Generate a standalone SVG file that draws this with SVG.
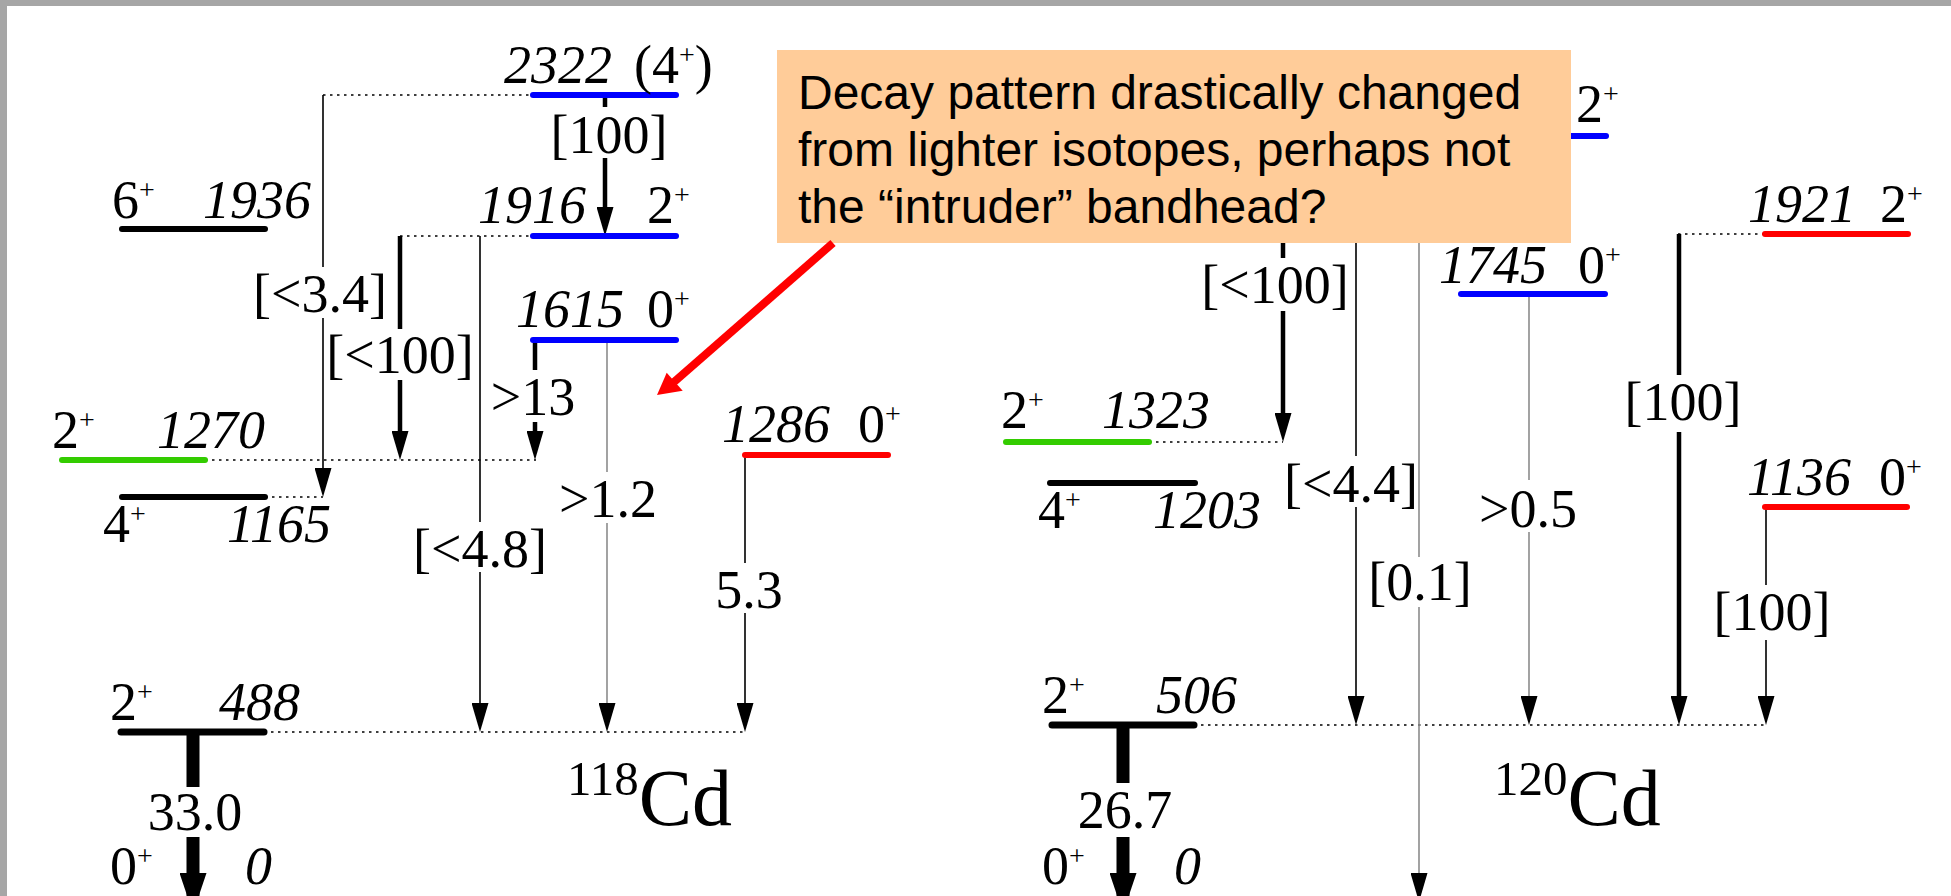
<svg xmlns="http://www.w3.org/2000/svg" width="1951" height="896" viewBox="0 0 1951 896">
<style>
.t{font-family:"Liberation Serif","Times New Roman",serif;font-size:54px;fill:#000}
.i{font-style:italic}
.s{font-size:28px;font-style:normal}
.c{text-anchor:middle}
.big{font-size:80px}
.sup{font-size:49px}
.lv{stroke-width:6;stroke-linecap:round;fill:none}
.blue{stroke:#0000ff}.green{stroke:#33cc00}.red{stroke:#ff0000}.blk{stroke:#000}
.dot{stroke:#000;stroke-width:1.5;stroke-dasharray:2.5 4.5;fill:none}
.thin{stroke:#000;stroke-width:1.6;fill:none;marker-end:url(#ah)}
.gray{stroke:#8c8c8c;stroke-width:1.6;fill:none;marker-end:url(#ah)}
.thick{stroke:#000;stroke-width:4.5;fill:none;marker-end:url(#ah)}
.huge{stroke:#000;stroke-width:13;fill:none;marker-end:url(#ahb)}
.note{font-family:"Liberation Sans",Arial,sans-serif;font-size:48px;fill:#000}
</style>
<defs>
<marker id="ah" markerUnits="userSpaceOnUse" viewBox="0 0 29 17" markerWidth="29" markerHeight="17" refX="19" refY="8.5" orient="auto"><path d="M0,0 L29,8.5 L0,17 Z" fill="#000"/></marker>
<marker id="ahb" markerUnits="userSpaceOnUse" viewBox="0 0 40 27" markerWidth="40" markerHeight="27" refX="30" refY="13.5" orient="auto"><path d="M0,0 L40,13.5 L0,27 Z" fill="#000"/></marker>
</defs>
<rect x="0" y="0" width="1951" height="896" fill="#a6a6a6"/>
<rect x="7" y="6" width="1944" height="890" fill="#ffffff"/>

<g id="connectors">
<path class="dot" d="M323,95 H533"/>
<path class="dot" d="M400,236 H533"/>
<path class="dot" d="M205,460 H536"/>
<path class="dot" d="M265,497 H323"/>
<path class="dot" d="M264,732 H745"/>
<path class="dot" d="M1149,442 H1283"/>
<path class="dot" d="M1678,234 H1765"/>
<path class="dot" d="M1194,725 H1766"/>
<path class="thin" d="M323,95 V267 M323,318 V487"/>
<path class="thick" d="M605,95 V107 M605,158 V226"/>
<path class="thick" d="M400,236 V329 M400,380 V450"/>
<path class="thin" d="M480,236 V522 M480,572 V722"/>
<path class="thick" d="M535,340 V370 M535,422 V450"/>
<path class="gray" d="M607,340 V472 M607,523 V722"/>
<path class="thin" d="M745,455 V563 M745,613 V722"/>
<path class="huge" d="M193,732 V787 M193,837 V903"/>
<path class="thick" d="M1283,136 V258 M1283,311 V432"/>
<path class="thin" d="M1356,136 V456 M1356,507 V715"/>
<path class="gray" d="M1419,136 V557 M1419,607 V892"/>
<path class="gray" d="M1529,294 V480 M1529,532 V715"/>
<path class="thick" d="M1679,234 V375 M1679,432 V715"/>
<path class="thin" d="M1766,507 V585 M1766,640 V715"/>
<path class="huge" d="M1123,725 V783 M1123,837 V903"/>
<text class="t c" x="609" y="153">[100]</text>
<text class="t c" x="320" y="312">[&lt;3.4]</text>
<text class="t c" x="400" y="373">[&lt;100]</text>
<text class="t c" x="533" y="415">&gt;13</text>
<text class="t c" x="608" y="517">&gt;1.2</text>
<text class="t c" x="480" y="567">[&lt;4.8]</text>
<text class="t c" x="749" y="608">5.3</text>
<text class="t c" x="195" y="830">33.0</text>
<text class="t c" x="1275" y="303">[&lt;100]</text>
<text class="t c" x="1683" y="420">[100]</text>
<text class="t c" x="1351" y="502">[&lt;4.4]</text>
<text class="t c" x="1528" y="527">&gt;0.5</text>
<text class="t c" x="1420" y="600">[0.1]</text>
<text class="t c" x="1772" y="630">[100]</text>
<text class="t c" x="1125" y="828">26.7</text>
</g>

<g id="cd118-2322">
<line class="lv blue" x1="533" y1="95" x2="676" y2="95"/>
<text class="t" y="83"><tspan class="i" x="504">2322</tspan><tspan x="634">(4</tspan><tspan class="s" dy="-19">+</tspan><tspan dy="19">)</tspan></text>
</g>
<g id="cd118-1936">
<line class="lv blk" x1="122" y1="229" x2="265" y2="229"/>
<text class="t" x="112" y="218">6<tspan class="s" dy="-19">+</tspan></text>
<text class="t i" x="203" y="218">1936</text>
</g>
<g id="cd118-1916">
<line class="lv blue" x1="533" y1="236" x2="676" y2="236"/>
<text class="t i" x="478" y="223">1916</text>
<text class="t" x="647" y="223">2<tspan class="s" dy="-19">+</tspan></text>
</g>
<g id="cd118-1615">
<line class="lv blue" x1="533" y1="340" x2="676" y2="340"/>
<text class="t i" x="516" y="327">1615</text>
<text class="t" x="647" y="327">0<tspan class="s" dy="-19">+</tspan></text>
</g>
<g id="cd118-1270">
<line class="lv green" x1="62" y1="460" x2="205" y2="460"/>
<text class="t" x="52" y="448">2<tspan class="s" dy="-19">+</tspan></text>
<text class="t i" x="157" y="448">1270</text>
</g>
<g id="cd118-1165">
<line class="lv blk" x1="122" y1="497" x2="265" y2="497"/>
<text class="t" x="103" y="542">4<tspan class="s" dy="-19">+</tspan></text>
<text class="t i" x="227" y="542">1165</text>
</g>
<g id="cd118-1286">
<line class="lv red" x1="745" y1="455" x2="888" y2="455"/>
<text class="t i" x="722" y="442">1286</text>
<text class="t" x="858" y="442">0<tspan class="s" dy="-19">+</tspan></text>
</g>
<g id="cd118-488">
<line class="lv blk" style="stroke-width:7" x1="121" y1="732" x2="264" y2="732"/>
<text class="t" x="110" y="720">2<tspan class="s" dy="-19">+</tspan></text>
<text class="t i" x="219" y="720">488</text>
</g>
<g id="cd118-0">
<text class="t" x="110" y="884">0<tspan class="s" dy="-19">+</tspan></text>
<text class="t i" x="245" y="884">0</text>
</g>
<g id="cd118-label">
<text class="t" y="825"><tspan class="sup" x="567" dy="-30">118</tspan><tspan class="big" dy="30">Cd</tspan></text>
</g>

<g id="cd120-2plus-top">
<line class="lv blue" x1="1462" y1="136" x2="1606" y2="136"/>
<text class="t" x="1576" y="122">2<tspan class="s" dy="-19">+</tspan></text>
</g>
<g id="cd120-1921">
<line class="lv red" x1="1765" y1="234" x2="1908" y2="234"/>
<text class="t i" x="1748" y="222">1921</text>
<text class="t" x="1880" y="222">2<tspan class="s" dy="-19">+</tspan></text>
</g>
<g id="cd120-1745">
<line class="lv blue" x1="1461" y1="294" x2="1605" y2="294"/>
<text class="t i" x="1439" y="283">1745</text>
<text class="t" x="1578" y="283">0<tspan class="s" dy="-19">+</tspan></text>
</g>
<g id="cd120-1323">
<line class="lv green" x1="1006" y1="442" x2="1149" y2="442"/>
<text class="t" x="1001" y="428">2<tspan class="s" dy="-19">+</tspan></text>
<text class="t i" x="1102" y="428">1323</text>
</g>
<g id="cd120-1203">
<line class="lv blk" x1="1050" y1="483" x2="1195" y2="483"/>
<text class="t" x="1038" y="528">4<tspan class="s" dy="-19">+</tspan></text>
<text class="t i" x="1153" y="528">1203</text>
</g>
<g id="cd120-1136">
<line class="lv red" x1="1765" y1="507" x2="1907" y2="507"/>
<text class="t i" x="1747" y="495">1136</text>
<text class="t" x="1879" y="495">0<tspan class="s" dy="-19">+</tspan></text>
</g>
<g id="cd120-506">
<line class="lv blk" style="stroke-width:7" x1="1052" y1="725" x2="1194" y2="725"/>
<text class="t" x="1042" y="713">2<tspan class="s" dy="-19">+</tspan></text>
<text class="t i" x="1156" y="713">506</text>
</g>
<g id="cd120-0">
<text class="t" x="1042" y="884">0<tspan class="s" dy="-19">+</tspan></text>
<text class="t i" x="1174" y="884">0</text>
</g>
<g id="cd120-label">
<text class="t" y="825"><tspan class="sup" x="1494" dy="-30">120</tspan><tspan class="big" dy="30">Cd</tspan></text>
</g>

<g id="callout">
<rect x="777" y="50" width="794" height="193" fill="#ffcc99"/>
<text class="note" x="798" y="109">Decay pattern drastically changed</text>
<text class="note" x="798" y="166">from lighter isotopes, perhaps not</text>
<text class="note" x="798" y="223">the “intruder” bandhead?</text>
<line x1="833" y1="243" x2="674" y2="382" stroke="#ff0000" stroke-width="8"/>
<polygon points="657,395 666.7,372.7 682.7,390.7" fill="#ff0000"/>
</g>
</svg>
